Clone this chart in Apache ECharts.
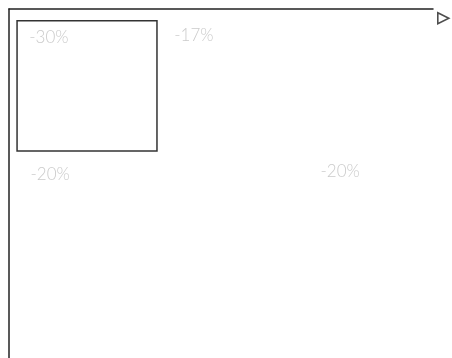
<!DOCTYPE html>
<html><head><meta charset="utf-8">
<script src="https://cdn.jsdelivr.net/npm/echarts@6/dist/echarts.min.js"></script>
<style>html,body{margin:0;padding:0;background:#fff}#c{width:452px;height:358px}</style>
</head><body><div id="c"></div>
<script>
const changes = [-30, -17, -20, -20];
const posX = [9.4, 43.6, 9.7, 78.1];
const posY = [8.3, 7.7, 47.3, 46.7];
const boxX = [1.9, 34.9];
const boxY = [3.4, 40.7];

const chart = echarts.init(document.getElementById('c'));
chart.setOption({
  animation: false,
  backgroundColor: '#fff',
  legend: {
    left: 432, top: 7, itemWidth: 11, itemHeight: 11,
    icon: 'path://M0,0 L10,5 L0,10 Z',
    itemStyle: {color: '#fff', borderColor: '#222', borderWidth: 1.6},
    formatter: () => '',
    data: ['change']
  },
  grid: {left: 9, top: 9, right: 19, bottom: -10, containLabel: false},
  xAxis: {type: 'value', position: 'top', min: 0, max: 100,
    axisLine: {show: true, onZero: false, lineStyle: {color: '#222', width: 1.5}},
    axisTick: {show: false}, axisLabel: {show: false}, splitLine: {show: false}},
  yAxis: {type: 'value', inverse: true, min: 0, max: 100,
    axisLine: {show: true, onZero: false, lineStyle: {color: '#222', width: 1.5}},
    axisTick: {show: false}, axisLabel: {show: false}, splitLine: {show: false}},
  series: [{
    name: 'change', type: 'scatter', symbolSize: 0,
    itemStyle: {color: '#fff'},
    data: changes.map((v, i) => [posX[i], posY[i], v]),
    label: {show: true, position: 'inside', color: '#bdbdbd', fontSize: 17,
      fontFamily: 'Lato', fontWeight: 300,
      formatter: p => p.value[2] + '%'},
    markArea: {silent: true,
      itemStyle: {color: 'rgba(0,0,0,0)', borderColor: '#333', borderWidth: 1.5},
      data: [[{coord: [boxX[0], boxY[0]]}, {coord: [boxX[1], boxY[1]]}]]}
  }]
});
</script></body></html>
